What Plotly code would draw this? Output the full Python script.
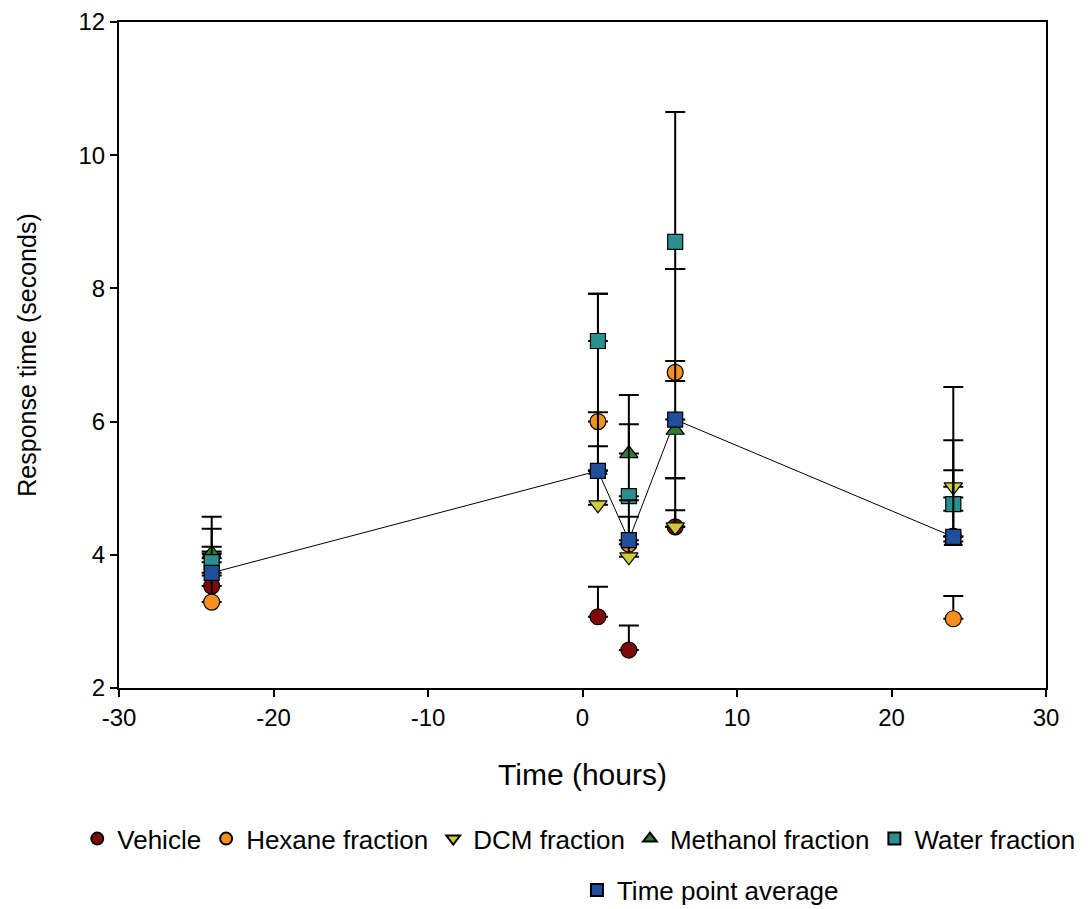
import plotly.graph_objects as go

time_h = [-24, 1, 3, 6, 24]

vehicle = [3.53, 3.07, 2.57, 4.42, 4.28]
vehicle_up = [0.52, 0.45, 0.37, 0.25, 0.0]
vehicle_dn = [0, 0, 0, 0, 0]

hexane = [3.29, 6.00, 4.16, 6.74, 3.04]
hexane_up = [0.40, 1.92, 0.0, 0.17, 0.34]
hexane_dn = [0, 0, 0, 0.13, 0]

dcm = [3.95, 4.75, 3.97, 4.42, 5.02]
dcm_up = [0.44, 1.39, 0.60, 0.73, 1.50]
dcm_dn = [0, 0, 0, 0, 0]

methanol = [4.02, 5.27, 5.52, 5.87, 4.20]
methanol_up = [0.10, 0.0, 0.88, 2.42, 0.66]
methanol_dn = [0, 0, 0, 0.72, 0]

water = [3.89, 7.21, 4.88, 8.70, 4.76]
water_up = [0.68, 0.71, 1.08, 1.95, 0.96]
water_dn = [0, 0, 0, 0.41, 0.10]

average = [3.73, 5.26, 4.22, 6.03, 4.27]
average_up = [0, 0.37, 0.60, 0, 1.0]
average_dn = [0, 0, 0, 0, 0]

x_ticks = [-30, -20, -10, 0, 10, 20, 30]
y_ticks = [2, 4, 6, 8, 10, 12]

FONT = "Liberation Sans, Arial, sans-serif"

series = [
    ("Vehicle", vehicle, vehicle_up, vehicle_dn, "circle", "#7d0a0a", 16, "legend"),
    ("Hexane fraction", hexane, hexane_up, hexane_dn, "circle", "#f5901e", 16, "legend"),
    ("DCM fraction", dcm, dcm_up, dcm_dn, "triangle-down", "#cccc3a", 16, "legend"),
    ("Methanol fraction", methanol, methanol_up, methanol_dn, "triangle-up", "#2e7d2e", 16, "legend"),
    ("Water fraction", water, water_up, water_dn, "square", "#2a8f8f", 15, "legend"),
    ("Time point average", average, average_up, average_dn, "square", "#1f4e9a", 15, "legend2"),
]

fig = go.Figure()

fig.add_trace(go.Scatter(
    x=time_h, y=average, mode="lines",
    line=dict(color="black", width=1), showlegend=False, hoverinfo="skip",
))

for name, vals, up, dn, sym, col, size, leg in series:
    fig.add_trace(go.Scatter(
        x=time_h, y=vals, mode="markers", name=name, legend=leg,
        marker=dict(symbol=sym, color=col, size=size,
                    line=dict(color="black", width=1.2)),
        error_y=dict(type="data", symmetric=False, array=up, arrayminus=dn,
                     color="black", thickness=2, width=10),
    ))

fig.update_layout(
    width=1092, height=909,
    margin=dict(l=119, r=46, t=22, b=221, autoexpand=False),
    paper_bgcolor="white", plot_bgcolor="white",
    font=dict(family=FONT, color="black", size=24),
    legend=dict(orientation="h", x=-0.045, xanchor="left",
                y=-0.191, yanchor="top",
                font=dict(size=26, family=FONT), itemsizing="constant",
                bgcolor="rgba(0,0,0,0)"),
    legend2=dict(orientation="h", x=0.494, xanchor="left",
                 y=-0.268, yanchor="top",
                 font=dict(size=26, family=FONT), itemsizing="constant",
                 bgcolor="rgba(0,0,0,0)"),
)

fig.update_xaxes(
    range=[-30, 30], tickvals=x_ticks, ticktext=[str(v) for v in x_ticks],
    showgrid=False, zeroline=False, showline=True, linecolor="black", linewidth=2,
    mirror=True, ticks="outside", ticklen=7, tickwidth=1.5, tickcolor="black",
    tickfont=dict(size=24, family=FONT), automargin=False,
    title=dict(text="Time (hours)", font=dict(size=30, family=FONT), standoff=34),
)
fig.update_yaxes(
    range=[2, 12], tickvals=y_ticks, ticktext=[str(v) for v in y_ticks],
    showgrid=False, zeroline=False, showline=True, linecolor="black", linewidth=2,
    mirror=True, ticks="outside", ticklen=7, tickwidth=1.5, tickcolor="black",
    tickfont=dict(size=24, family=FONT), automargin=False,
    title=dict(text="Response time (seconds)", font=dict(size=25, family=FONT), standoff=35),
)

fig.write_html("out.html")
